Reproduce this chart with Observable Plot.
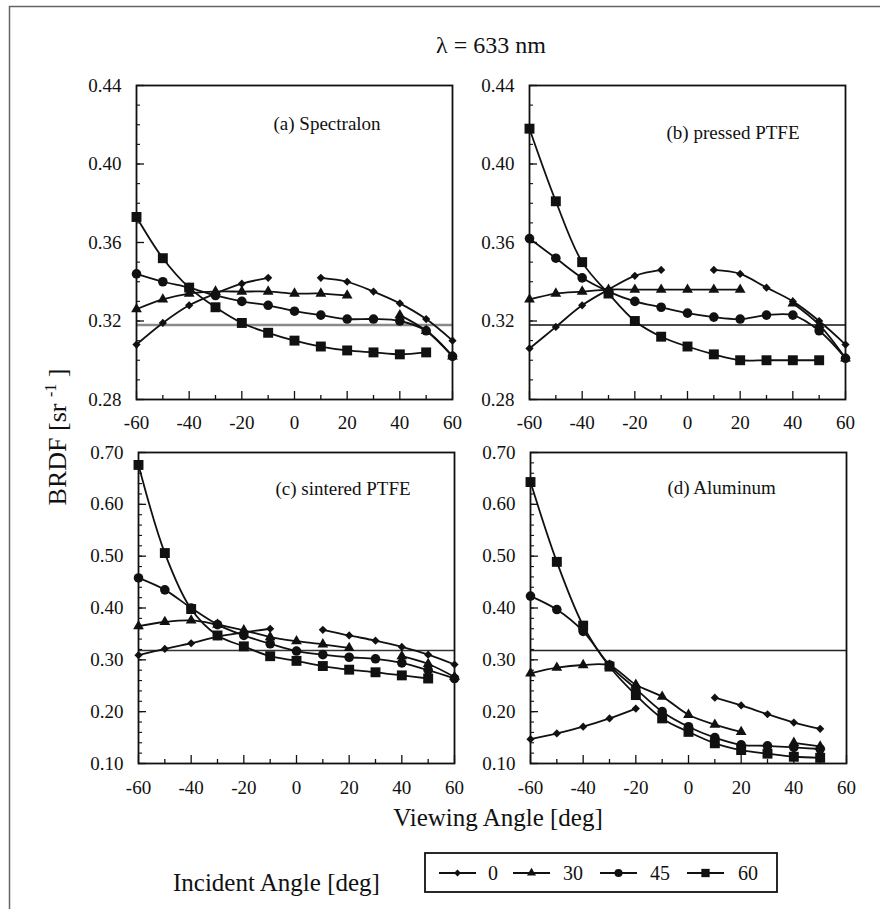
<!DOCTYPE html>
<html><head><meta charset="utf-8">
<script src="https://cdn.jsdelivr.net/npm/d3@7"></script>
<script src="https://cdn.jsdelivr.net/npm/@observablehq/plot@0.6"></script>
<style>
body{margin:0;background:#fff;}
#fig{position:relative;width:880px;height:909px;background:#fff;font-family:"Liberation Serif","DejaVu Serif",serif;color:#111;overflow:hidden}
</style></head><body><div id="fig"></div>
<script>
// ---- data ----
const angles = [-60, -50, -40, -30, -20, -10, 0, 10, 20, 30, 40, 50, 60];
const incidentAngles = [0, 30, 45, 60];
const lambertian = [0.318];

const spectralon0  = [0.308, 0.319, 0.328, 0.334, 0.339, 0.342, null, 0.342, 0.340, 0.335, 0.329, 0.321, 0.310];
const spectralon30 = [0.326, 0.331, 0.334, 0.335, 0.335, 0.335, 0.334, 0.334, 0.333, null, 0.323, 0.315, 0.302];
const spectralon45 = [0.344, 0.340, 0.337, 0.333, 0.330, 0.328, 0.325, 0.323, 0.321, 0.321, 0.320, 0.315, 0.302];
const spectralon60 = [0.373, 0.352, 0.337, 0.327, 0.319, 0.314, 0.310, 0.307, 0.305, 0.304, 0.303, 0.304, null];

const pressed0  = [0.306, 0.317, 0.328, 0.336, 0.343, 0.346, null, 0.346, 0.344, 0.337, 0.330, 0.320, 0.308];
const pressed30 = [0.331, 0.334, 0.335, 0.336, 0.336, 0.336, 0.336, 0.336, 0.336, null, 0.329, 0.318, 0.301];
const pressed45 = [0.362, 0.352, 0.342, 0.335, 0.330, 0.327, 0.324, 0.322, 0.321, 0.323, 0.323, 0.315, 0.301];
const pressed60 = [0.418, 0.381, 0.350, 0.334, 0.320, 0.312, 0.307, 0.303, 0.300, 0.300, 0.300, 0.300, null];

const sintered0  = [0.309, 0.321, 0.332, 0.345, 0.353, 0.360, null, 0.358, 0.347, 0.337, 0.325, 0.310, 0.291];
const sintered30 = [0.365, 0.373, 0.376, 0.368, 0.357, 0.344, 0.336, 0.330, 0.323, null, 0.307, 0.292, 0.267];
const sintered45 = [0.458, 0.435, 0.400, 0.368, 0.347, 0.331, 0.317, 0.310, 0.305, 0.302, 0.294, 0.280, 0.264];
const sintered60 = [0.676, 0.506, 0.398, 0.347, 0.326, 0.307, 0.298, 0.288, 0.281, 0.276, 0.270, 0.264, null];

const aluminum0  = [0.147, 0.158, 0.171, 0.187, 0.206, null, null, 0.227, 0.212, 0.195, 0.179, 0.167, null];
const aluminum30 = [0.274, 0.285, 0.290, 0.289, 0.252, 0.229, 0.194, 0.175, 0.161, null, 0.140, 0.133, null];
const aluminum45 = [0.423, 0.397, 0.355, 0.290, 0.244, 0.200, 0.171, 0.150, 0.136, 0.134, 0.131, 0.128, null];
const aluminum60 = [0.643, 0.489, 0.366, 0.287, 0.232, 0.187, 0.161, 0.139, 0.126, 0.119, 0.113, 0.111, null];

const xTicks = [-60, -40, -20, 0, 20, 40, 60];
const xMinor = [-50, -30, -10, 10, 30, 50];
const topYTicks = [0.28, 0.32, 0.36, 0.40, 0.44];
const bottomYTicks = [0.10, 0.20, 0.30, 0.40, 0.50, 0.60, 0.70];

const panelLabels = ["(a) Spectralon", "(b) pressed PTFE", "(c) sintered PTFE", "(d) Aluminum"];
const legendLabels = ["0", "30", "45", "60"];
const titleText = "λ = 633 nm";
const xTitle = "Viewing Angle [deg]";
const legendTitle = "Incident Angle [deg]";

// ---- drawing ----
const fig = document.getElementById("fig");
const FONT = '"Liberation Serif","DejaVu Serif",serif';
const W = 316;
const symbols = ["diamond2", "triangle", "circle", "square"];
const radii = [3.7, 4.0, 4.8, 5.6];

function minorTicks(lo, hi, step) {
  return d3.range(Math.round((hi - lo) / step) + 1).map(i => +(lo + i * step).toFixed(3));
}

const panels = [
  {label: panelLabels[0], series: [spectralon0, spectralon30, spectralon45, spectralon60], domain: [0.28, 0.44], ticks: topYTicks, minor: minorTicks(0.28, 0.44, 0.01), left: 136, top: 85, h: 314, lamb: "#8a8a8a", lambW: 2.4, ldy: 38, xPad: 16},
  {label: panelLabels[1], series: [pressed0, pressed30, pressed45, pressed60], domain: [0.28, 0.44], ticks: topYTicks, minor: minorTicks(0.28, 0.44, 0.01), left: 529, top: 85, h: 314, lamb: "#111", lambW: 1.6, ldy: 47, xPad: 16},
  {label: panelLabels[2], series: [sintered0, sintered30, sintered45, sintered60], domain: [0.10, 0.70], ticks: bottomYTicks, minor: minorTicks(0.10, 0.70, 0.02), left: 138, top: 452, h: 311, lamb: "#333", lambW: 1.6, ldy: 36, xPad: 17},
  {label: panelLabels[3], series: [aluminum0, aluminum30, aluminum45, aluminum60], domain: [0.10, 0.70], ticks: bottomYTicks, minor: minorTicks(0.10, 0.70, 0.02), left: 530, top: 452, h: 311, lamb: "#222", lambW: 1.6, ldy: 35, xPad: 17}
];

const ML = 70, MR = 15, MT = 10, MB = 40;
for (const p of panels) {
  const rows = [];
  p.series.forEach((vals, i) => angles.forEach((a, j) => rows.push({view: a, brdf: vals[j] == null ? NaN : vals[j], inc: incidentAngles[i]})));
  const marks = [
    Plot.ruleY(lambertian, {stroke: p.lamb, strokeWidth: p.lambW}),
    Plot.line(rows, {x: "view", y: "brdf", z: "inc", curve: "catmull-rom", stroke: "#111", strokeWidth: 1.8}),
    ...incidentAngles.map((inc, i) => Plot.dot(rows.filter(d => d.inc === inc && !isNaN(d.brdf)), {x: "view", y: "brdf", symbol: symbols[i], r: radii[i], fill: "#111", stroke: "none"})),
    Plot.ruleX(xMinor, {insetTop: p.h - 4, stroke: "#111", strokeWidth: 1.3}),
    Plot.ruleX(xTicks, {insetTop: p.h - 8, stroke: "#111", strokeWidth: 1.3}),
    Plot.ruleY(p.minor, {insetRight: W - 4, stroke: "#111", strokeWidth: 1.1}),
    Plot.ruleY(p.ticks, {insetRight: W - 8, stroke: "#111", strokeWidth: 1.3}),
    Plot.frame({stroke: "#111", strokeWidth: 1.8}),
    Plot.axisX(xTicks, {tickSize: 0, tickPadding: p.xPad, tickFormat: d => String(d), fontSize: 19, label: null}),
    Plot.axisY(p.ticks, {tickSize: 0, tickPadding: 15, tickFormat: d3.format(".2f"), fontSize: 19, label: null}),
    Plot.text([p.label], {frameAnchor: "top-left", textAnchor: "start", lineAnchor: "middle", dx: 137, dy: p.ldy, fontSize: 19, fill: "#111"})
  ];
  const svg = Plot.plot({
    width: ML + W + MR, height: MT + p.h + MB,
    marginLeft: ML, marginRight: MR, marginTop: MT, marginBottom: MB,
    x: {domain: [-60, 60]},
    y: {domain: p.domain},
    style: {fontFamily: FONT, background: "transparent", color: "#111", overflow: "visible"},
    marks
  });
  svg.style.position = "absolute";
  svg.style.left = (p.left - ML) + "px";
  svg.style.top = (p.top - MT) + "px";
  svg.style.maxWidth = "none";
  fig.appendChild(svg);
}

// overlay for titles, border and legend
const ov = d3.create("svg").attr("width", 880).attr("height", 909)
  .style("position", "absolute").style("left", "0px").style("top", "0px")
  .attr("font-family", FONT).attr("fill", "#111");
ov.append("path").attr("d", "M9.5,909V6.5H880").attr("fill", "none").attr("stroke", "#666").attr("stroke-width", 1.5);

ov.append("text").attr("x", 491).attr("y", 45).attr("dy", "0.35em").attr("text-anchor", "middle").attr("font-size", 24).text(titleText);
ov.append("text").attr("x", 498).attr("y", 817).attr("dy", "0.35em").attr("text-anchor", "middle").attr("font-size", 25).text(xTitle);
ov.append("text").attr("x", 173).attr("y", 882).attr("dy", "0.35em").attr("text-anchor", "start").attr("font-size", 25).text(legendTitle);

const yl = ov.append("text").attr("transform", "translate(66,437) rotate(-90)").attr("text-anchor", "middle").attr("font-size", 26);
yl.append("tspan").text("BRDF [sr ");
yl.append("tspan").attr("font-size", 16).attr("dy", -10).text("-1");
yl.append("tspan").attr("dy", 10).text(" ]");

// legend
const lg = ov.append("g").attr("transform", "translate(423,851)");
lg.append("rect").attr("x", 2).attr("y", 2).attr("width", 352).attr("height", 39).attr("fill", "white").attr("stroke", "#111").attr("stroke-width", 1.8);
const segX = [16, 90, 177, 264];
const labX = [70, 150, 237, 325];
const d3syms = [d3.symbolDiamond2, d3.symbolTriangle, d3.symbolCircle, d3.symbolSquare];
incidentAngles.forEach((inc, i) => {
  const g = lg.append("g");
  g.append("line").attr("x1", segX[i]).attr("x2", segX[i] + 37).attr("y1", 22).attr("y2", 22).attr("stroke", "#111").attr("stroke-width", 1.8);
  g.append("path").attr("transform", `translate(${segX[i] + 18.5},22)`).attr("d", d3.symbol(d3syms[i], Math.PI * radii[i] * radii[i] * 0.7)()).attr("fill", "#111");
  g.append("text").attr("x", labX[i]).attr("y", 22).attr("dy", "0.35em").attr("text-anchor", "middle").attr("font-size", 20).text(legendLabels[i]);
});
fig.appendChild(ov.node());
</script></body></html>
